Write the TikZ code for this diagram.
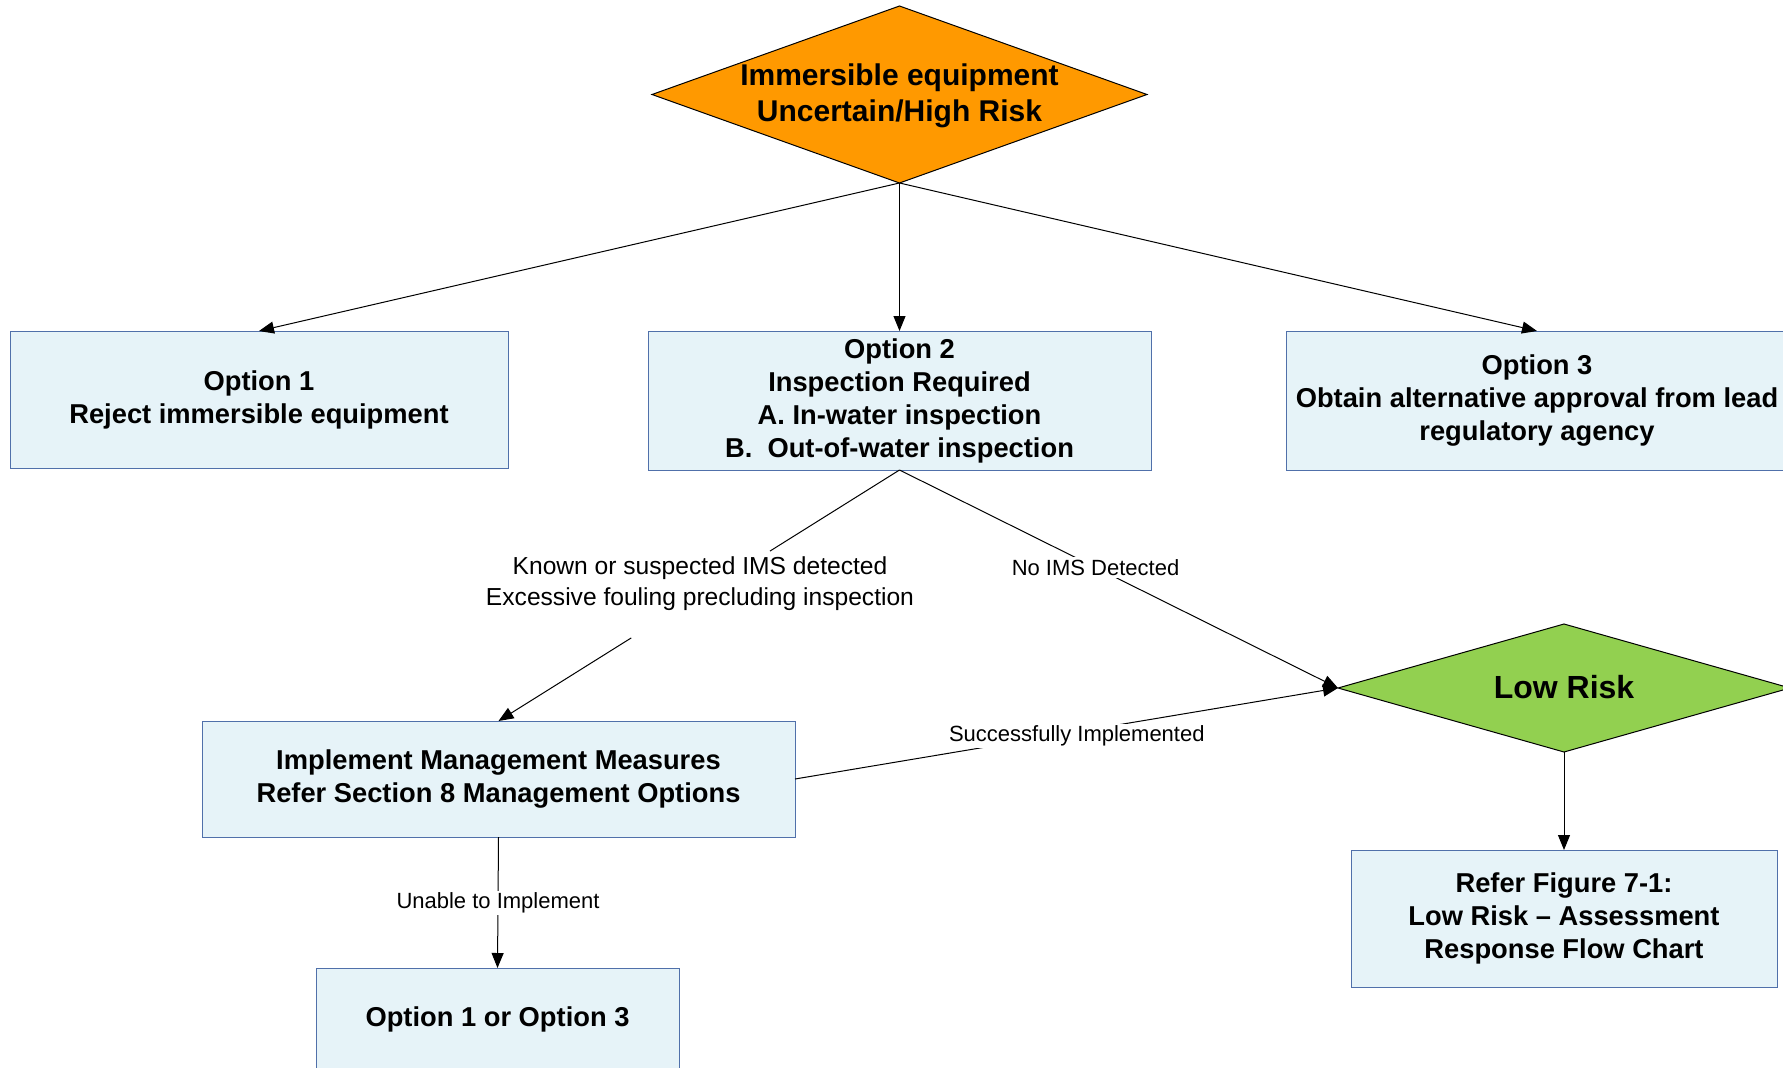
\documentclass[tikz,border=0pt]{standalone}
\usepackage{fontspec}
\setmainfont{Liberation Sans}
\usetikzlibrary{shapes.geometric,arrows.meta,calc}
\definecolor{boxfill}{RGB}{230,243,248}
\definecolor{boxline}{RGB}{80,112,170}
\definecolor{orangefill}{RGB}{255,153,0}
\definecolor{greenfill}{RGB}{146,208,80}
\begin{document}
\begin{tikzpicture}[x=1pt,y=-1pt,
  box/.style={draw=boxline, line width=1pt, fill=boxfill, inner sep=0pt, outer sep=0pt, align=center, font=\fontsize{27.3}{33}\selectfont\bfseries},
  dshape/.style={diamond, draw=black, line width=1pt, inner sep=0pt, outer sep=0pt},
  line/.style={draw=black, line width=1pt},
  conn/.style={line, -{Triangle[length=15pt,width=12pt]}},
  lbl/.style={align=center, inner sep=2pt, font=\fontsize{22}{30}\selectfont}
]
\useasboundingbox (0,0) rectangle (1783,1068);
% diamonds
\node[dshape, fill=orangefill, minimum width=495pt, minimum height=177pt] (hr) at (899.5,94.5) {};
\node[align=center, font=\fontsize{30}{35.5}\selectfont\bfseries] (hrt) at (899.5,96) {Immersible equipment\\Uncertain/High Risk};
\node[dshape, fill=greenfill, minimum width=452pt, minimum height=128pt] (lr) at (1564,688) {};
\node[font=\fontsize{32}{38}\selectfont\bfseries] (lrt) at (1564,687) {Low Risk};
% boxes
\node[box, minimum width=498pt, minimum height=137pt] (o1) at (259,399.5) {Option 1\\Reject immersible equipment};
\node[box, minimum width=503pt, minimum height=139pt] (o2) at (899.5,400.5) {Option 2\\Inspection Required\\A. In-water inspection\\B.\ \ Out-of-water inspection};
\node[box, minimum width=502pt, minimum height=139pt] (o3) at (1537,400.5) {Option 3\\Obtain alternative approval from lead\\regulatory agency};
\node[box, minimum width=593pt, minimum height=116pt] (impl) at (498.5,779) {Implement Management Measures\\Refer Section 8 Management Options};
\node[box, minimum width=363pt, minimum height=104pt, text depth=6pt] (o13) at (497.5,1020) {Option 1 or Option 3};
\node[box, minimum width=426pt, minimum height=137pt] (refer) at (1564,918.5) {Refer Figure 7-1:\\Low Risk -- Assessment\\Response Flow Chart};
% connectors
\draw[conn] (hr.south) -- (o1.north);
\draw[conn] (hr.south) -- (o2.north);
\draw[conn] (hr.south) -- (o3.north);
\coordinate (kA) at ($(o2.south)!0.323!(impl.north)$);
\coordinate (kB) at ($(o2.south)!0.669!(impl.north)$);
\draw[line] (o2.south) -- (kA);
\draw[conn] (kB) -- (impl.north);
\node[lbl, font=\fontsize{24.6}{31}\selectfont] (klbl) at (700,583.5) {Known or suspected IMS detected\\Excessive fouling precluding inspection};
\draw[conn] (o2.south) -- node[lbl, fill=white, pos=0.447] (nolbl) {No IMS Detected} (lr.west);
\draw[conn] (impl.east) -- node[lbl, fill=white, pos=0.519, yshift=-4pt] (slbl) {Successfully Implemented} (lr.west);
\draw[conn] (impl.south) -- node[lbl, fill=white, pos=0.504] (ulbl) {Unable to Implement} (o13.north);
\draw[conn] (lr.south) -- (refer.north);
\end{tikzpicture}
\end{document}
